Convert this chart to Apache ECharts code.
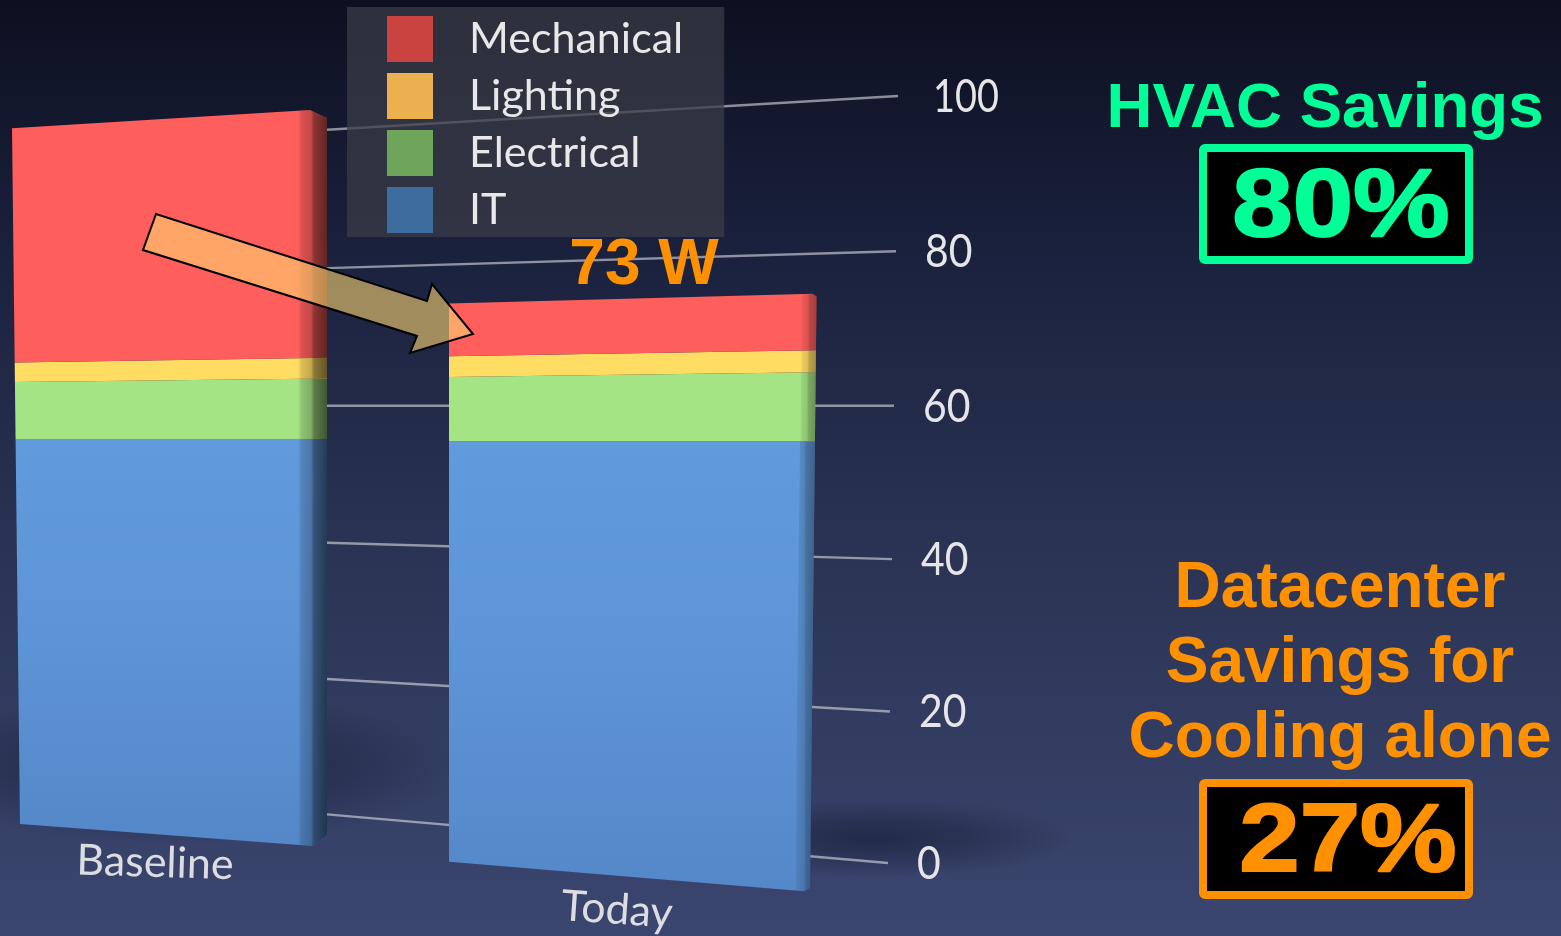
<!DOCTYPE html>
<html>
<head>
    <meta charset="utf-8">
    <title>HVAC Savings</title>
    <script src="https://cdn.jsdelivr.net/npm/echarts@6/dist/echarts.min.js"></script>
    <style>
        html, body { margin: 0; padding: 0; background: #1c2340; }
        #chart { width: 1561px; height: 936px; }
    </style>
</head>
<body>
    <div id="chart"></div>
    <script>
        // data
        var categories = ['Baseline', 'Today'];
        var seriesNames = ['IT', 'Electrical', 'Lighting', 'Mechanical'];
        var legendNames = ['Mechanical', 'Lighting', 'Electrical', 'IT'];
        var itValues = [55.3, 55];
        var electricalValues = [8.2, 8.4];
        var lightingValues = [2.8, 2.7];
        var mechanicalValues = [33.7, 6.9];
        var tickValues = [0, 20, 40, 60, 80, 100];

        var hvacTitle = 'HVAC Savings';
        var hvacValue = '80%';
        var totalLabel = '73 W';
        var datacenterLines = ['Datacenter', 'Savings for', 'Cooling alone'];
        var datacenterValue = '27%';

        // colours
        var legendColors = { IT: '#3d6d9e', Electrical: '#6ea55b', Lighting: '#ecb04e', Mechanical: '#cb4340' };
        var faceColors = { Electrical: '#a5e484', Lighting: '#ffdc62', Mechanical: '#ff5f5c' };
        var green = '#00ff96';
        var orange = '#ff9100';

        // perspective of the drawing: bars and back wall converge on their own horizon
        var barHorizon = 440;
        var wallHorizon = 407;
        var shapes = [
            { x0: 20, lean0: -0.08, x1: 327, lean1: 0, g0: 0.908, g1: 0.962, side: 29, dark: 0.62, topCut: [17, 9], botCut: [14, 12] },
            { x0: 449, lean0: 0, x1: 810, lean1: 0.09, g0: 0.997, g1: 1.068, side: 15, dark: 0.36, topCut: [4, 3], botCut: [6, 4] }
        ];

        function shapeY(s, x, axisY) {
            var t = (x - s.x0) / (s.x1 - s.x0);
            return barHorizon + (axisY - barHorizon) * (s.g0 + (s.g1 - s.g0) * t);
        }

        function barRender(name) {
            return function (params, api) {
                var s = shapes[api.value(0)];
                var base = api.value(1), top = api.value(2);
                var yb = api.coord([api.value(0), base])[1];
                var yt = api.coord([api.value(0), top])[1];
                var rb = s.x1 + s.lean1 * base, rt = s.x1 + s.lean1 * top;
                var lb = s.x0 + s.lean0 * base, lt = s.x0 + s.lean0 * top;

                function outline(leftBot, leftTop) {
                    var pts = [[leftBot, shapeY(s, leftBot, yb)]];
                    pts.push([leftTop, shapeY(s, leftTop, yt)]);
                    if (name === 'Mechanical') {
                        pts.push([rt - s.topCut[0], shapeY(s, rt - s.topCut[0], yt)]);
                        pts.push([rt, shapeY(s, rt, yt) + s.topCut[1]]);
                    } else {
                        pts.push([rt, shapeY(s, rt, yt)]);
                    }
                    if (name === 'IT') {
                        pts.push([rb, shapeY(s, rb, yb) - s.botCut[1]]);
                        pts.push([rb - s.botCut[0], shapeY(s, rb - s.botCut[0], yb)]);
                    } else {
                        pts.push([rb, shapeY(s, rb, yb)]);
                    }
                    return pts;
                }

                var fill = name === 'IT'
                    ? new echarts.graphic.LinearGradient(0, 0, 0, 1, [
                        { offset: 0, color: '#619bdc' },
                        { offset: 0.5, color: '#5d94d6' },
                        { offset: 1, color: '#5488c8' }
                    ])
                    : faceColors[name];
                var sideFill = new echarts.graphic.LinearGradient(0, 0, 1, 0, [
                    { offset: 0, color: 'rgba(0,0,0,0)' },
                    { offset: 0.12, color: 'rgba(0,0,0,' + s.dark * 0.22 + ')' },
                    { offset: 0.45, color: 'rgba(0,0,0,' + s.dark * 0.38 + ')' },
                    { offset: 0.55, color: 'rgba(0,0,0,' + s.dark * 0.72 + ')' },
                    { offset: 1, color: 'rgba(0,0,0,' + s.dark + ')' }
                ]);
                return {
                    type: 'group',
                    children: [
                        { type: 'polygon', shape: { points: outline(lb, lt) }, style: { fill: fill } },
                        { type: 'polygon', shape: { points: outline(rb - s.side, rt - s.side) }, style: { fill: sideFill } }
                    ]
                };
            };
        }

        function barSeries(name, values, below) {
            return {
                name: name,
                type: 'custom',
                z: 3,
                clip: false,
                itemStyle: { color: legendColors[name] },
                encode: { x: 0, y: 2 },
                renderItem: barRender(name),
                data: values.map(function (v, i) { return [i, below[i], below[i] + v]; })
            };
        }

        // stack the four parts from the bottom up
        var seriesValues = [itValues, electricalValues, lightingValues, mechanicalValues];
        var running = [0, 0];
        var barList = seriesValues.map(function (vals, n) {
            var item = barSeries(seriesNames[n], vals, running.slice());
            running = running.map(function (r, i) { return r + vals[i]; });
            return item;
        });

        // tilted rules and their labels at the back wall
        var gridSeries = {
            type: 'custom',
            z: 1,
            silent: true,
            clip: false,
            encode: { y: 0 },
            renderItem: function (params, api) {
                var v = api.value(0);
                // the scale bows slightly in the middle in the photo
                var y = api.coord([0, v])[1] + 3 * v * (100 - v) / 2500;
                var end = 888 + v * 0.1;
                var k = 0.00019;
                var yAt = function (x) { return wallHorizon + (y - wallHorizon) * (1 - (end - x) * k); };
                return {
                    type: 'group',
                    children: [
                        {
                            type: 'line',
                            shape: { x1: 327, y1: yAt(327), x2: end, y2: y },
                            style: { stroke: 'rgba(215,215,220,0.62)', lineWidth: 2.4 }
                        },
                        {
                            type: 'text',
                            x: end + (v === 100 ? 35 : 29),
                            y: y + 1,
                            scaleX: v === 100 ? 0.86 : 0.93,
                            scaleY: 1.05,
                            style: {
                                text: String(v),
                                fill: '#e6e6e8',
                                font: '44px Lato',
                                textAlign: 'left',
                                textVerticalAlign: 'middle'
                            }
                        }
                    ]
                };
            },
            data: tickValues.map(function (v) { return [v]; })
        };

        var catLabelPos = [
            { x: 155, y: 863, rotation: -0.03, size: 43 },
            { x: 617, y: 910, rotation: -0.07, size: 43 }
        ];
        var categorySeries = {
            type: 'custom',
            z: 3,
            silent: true,
            clip: false,
            encode: { x: 0 },
            renderItem: function (params, api) {
                var p = catLabelPos[api.value(0)];
                return {
                    type: 'text',
                    x: p.x,
                    y: p.y,
                    rotation: p.rotation,
                    style: {
                        text: categories[api.value(0)],
                        fill: '#dcdde0',
                        font: p.size + 'px Lato',
                        textAlign: 'center',
                        textVerticalAlign: 'middle'
                    }
                };
            },
            data: categories.map(function (c, i) { return [i]; })
        };

        function boldText(text, cx, cy, size, color, extra) {
            var el = {
                type: 'text',
                x: cx,
                y: cy,
                z: 20,
                style: {
                    text: text,
                    fill: color,
                    font: 'bold ' + size + 'px "Liberation Sans"',
                    textAlign: 'center',
                    textVerticalAlign: 'middle'
                }
            };
            if (extra) {
                el.scaleX = extra.scaleX;
                el.style.stroke = color;
                el.style.lineWidth = extra.stroke;
            }
            return el;
        }

        function valueBox(y, color) {
            return {
                type: 'rect',
                z: 19,
                shape: { x: 1203, y: y, width: 266, height: 112, r: 2 },
                style: { fill: '#000', stroke: color, lineWidth: 8 }
            };
        }

        function shadow(cx, cy, r, scaleY, alpha) {
            return {
                type: 'circle',
                x: cx,
                y: cy,
                scaleY: scaleY,
                z: 0,
                silent: true,
                shape: { cx: 0, cy: 0, r: r },
                style: {
                    fill: new echarts.graphic.RadialGradient(0.5, 0.5, 0.5, [
                        { offset: 0, color: 'rgba(18,22,44,' + alpha + ')' },
                        { offset: 0.5, color: 'rgba(18,22,44,' + alpha * 0.55 + ')' },
                        { offset: 1, color: 'rgba(18,22,44,0)' }
                    ])
                }
            };
        }

        var option = {
            animation: false,
            backgroundColor: new echarts.graphic.LinearGradient(0, 0, 0, 1, [
                { offset: 0, color: '#0c1020' },
                { offset: 0.3, color: '#1c2340' },
                { offset: 0.6, color: '#2b3454' },
                { offset: 1, color: '#3b4670' }
            ]),
            grid: { left: 0, right: 0, top: 96, height: 767 },
            xAxis: { type: 'category', data: categories, show: false },
            yAxis: { type: 'value', min: 0, max: 100, interval: 20, show: false },
            legend: {
                data: legendNames,
                orient: 'vertical',
                left: 347,
                top: 7,
                padding: [9, 41, 4, 40],
                itemWidth: 46,
                itemHeight: 46,
                itemGap: 11,
                icon: 'rect',
                backgroundColor: 'rgba(58,60,70,0.74)',
                selectedMode: false,
                textStyle: { color: '#e8e8ea', fontFamily: 'Lato', fontSize: 43, padding: [2, 0, 0, 31] }
            },
            series: [gridSeries].concat(barList, [categorySeries]),
            graphic: [
                shadow(180, 768, 280, 0.27, 0.62),
                shadow(875, 838, 200, 0.2, 0.55),
                {
                    type: 'polygon',
                    z: 10,
                    shape: { points: [[156, 214], [143, 250], [417, 336], [410, 353], [473, 334], [432, 284], [427, 301]] },
                    style: { fill: 'rgba(255,216,112,0.58)', stroke: '#000', lineWidth: 2 }
                },
                boldText(totalLabel, 644, 266, 64, orange),
                boldText(hvacTitle, 1325, 109, 63.6, green),
                valueBox(148, green),
                boldText(hvacValue, 1341, 209, 97, green, { scaleX: 1.12, stroke: 2 }),
                boldText(datacenterLines[0], 1340, 589, 64, orange),
                boldText(datacenterLines[1], 1340, 664, 64, orange),
                boldText(datacenterLines[2], 1340, 739, 64, orange),
                valueBox(783, orange),
                boldText(datacenterValue, 1348, 844, 97, orange, { scaleX: 1.12, stroke: 2 })
            ]
        };

        var myChart = echarts.init(document.getElementById('chart'));
        myChart.setOption(option);
    </script>
</body>
</html>
